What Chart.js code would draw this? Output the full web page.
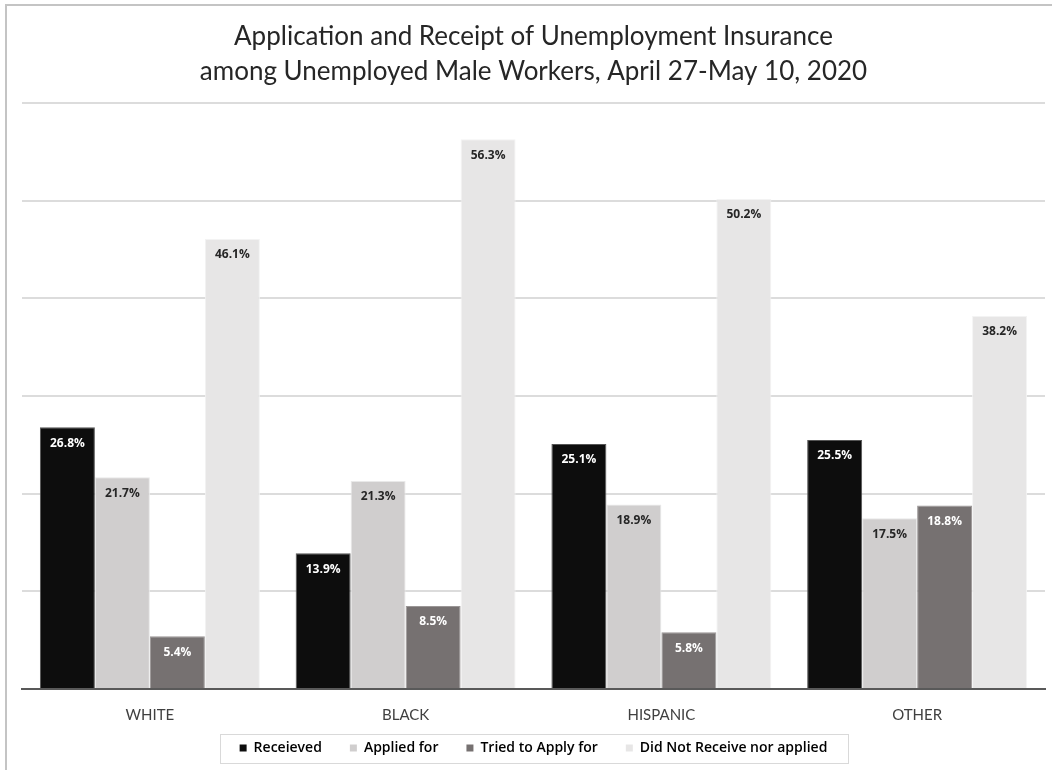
<!DOCTYPE html>
<html>
<head>
<meta charset="utf-8">
<script src="https://cdn.jsdelivr.net/npm/chart.js@4.4.1/dist/chart.umd.min.js"></script>
<style>
  html, body { margin: 0; padding: 0; background: #ffffff; }
  #wrap { position: relative; width: 1052px; height: 770px; overflow: hidden; }
  #frame { position: absolute; left: 5px; top: 4px; width: 1100px; height: 820px;
           border-left: 2px solid #c4c4c4; border-top: 2px solid #c4c4c4; }
  canvas { position: absolute; left: 0; top: 0; }
</style>
</head>
<body>
<div id="wrap">
  <div id="frame"></div>
  <canvas id="chart" width="1052" height="770"></canvas>
</div>
<script>
// Groups along the x axis
const categories = ['WHITE', 'BLACK', 'HISPANIC', 'OTHER'];

// Share of unemployed male workers (%) per status
const received     = [26.8, 13.9, 25.1, 25.5];
const appliedFor   = [21.7, 21.3, 18.9, 17.5];
const triedToApply = [5.4, 8.5, 5.8, 18.8];
const didNotApply  = [46.1, 56.3, 50.2, 38.2];

const seriesNames = ['Receieved', 'Applied for', 'Tried to Apply for', 'Did Not Receive nor applied'];

const titleLines = [
  'Application and Receipt of Unemployment Insurance',
  'among Unemployed Male Workers, April 27-May 10, 2020'
];

const fills  = ['#0d0d0d', '#d0cece', '#767171', '#e7e6e6'];
const edges  = ['#555555', '#e9e9e9', '#9a9696', '#f3f3f3'];
const labelInk = ['#ffffff', '#262626', '#ffffff', '#262626'];

const LEGEND_GAP = 28;   // spacing between legend entries
const LEGEND_LIFT = 11;  // pull the legend row up into the space under the axis labels

// Value labels drawn just inside the top of each bar
const barValueLabels = {
  id: 'barValueLabels',
  afterDatasetsDraw(chart) {
    const ctx = chart.ctx;
    ctx.save();
    ctx.font = 'bold 12px "Open Sans", "DejaVu Sans", sans-serif';
    ctx.textAlign = 'center';
    ctx.textBaseline = 'middle';
    chart.data.datasets.forEach((ds, di) => {
      const meta = chart.getDatasetMeta(di);
      meta.data.forEach((bar, i) => {
        ctx.fillStyle = labelInk[di];
        ctx.fillText(ds.data[i].toFixed(1) + '%', bar.x, bar.y + 16);
      });
    });
    ctx.restore();
  }
};

// Lifts the legend row and draws a thin frame around it
const legendFrame = {
  id: 'legendFrame',
  afterLayout(chart) {
    const lg = chart.legend;
    if (!lg) return;
    lg.top -= LEGEND_LIFT;
    lg.bottom -= LEGEND_LIFT;
  },
  afterDraw(chart) {
    const lg = chart.legend;
    if (!lg || !lg.legendHitBoxes || !lg.legendHitBoxes.length) return;
    const boxes = lg.legendHitBoxes;
    let minX = Infinity, maxX = -Infinity;
    boxes.forEach(b => { minX = Math.min(minX, b.left); maxX = Math.max(maxX, b.left + b.width); });
    const itemH = Math.max(lg.options.labels.font.size, lg.options.labels.boxHeight);
    const cy = lg.top + LEGEND_GAP + itemH / 2;
    const ctx = chart.ctx;
    ctx.save();
    ctx.strokeStyle = '#d9d9d9';
    ctx.lineWidth = 1;
    ctx.strokeRect(Math.round(minX - 20) + 0.5, Math.round(cy - 14.5) + 0.5,
                   Math.round(maxX - minX + 40), 29);
    ctx.restore();
  }
};

const datasets = [received, appliedFor, triedToApply, didNotApply].map((vals, i) => ({
  label: seriesNames[i],
  data: vals,
  backgroundColor: fills[i],
  borderColor: edges[i],
  borderWidth: 1,
  categoryPercentage: 0.86,
  barPercentage: 1.0
}));

new Chart(document.getElementById('chart'), {
  type: 'bar',
  data: { labels: categories, datasets },
  options: {
    responsive: false,
    animation: false,
    layout: { padding: { left: 22, right: 7, top: 0, bottom: -6 } },
    plugins: {
      title: {
        display: true,
        text: titleLines,
        color: '#262626',
        font: { family: 'Lato, "Open Sans", sans-serif', size: 26, weight: 'normal', lineHeight: 1.35 },
        padding: { top: 19, bottom: 14 }
      },
      legend: {
        display: true,
        position: 'bottom',
        labels: {
          boxWidth: 7,
          boxHeight: 7,
          padding: LEGEND_GAP,
          color: '#262626',
          font: { family: '"Open Sans", "DejaVu Sans", sans-serif', size: 14, weight: '600' },
          generateLabels(chart) {
            return chart.data.datasets.map((ds, i) => ({
              text: ds.label,
              fillStyle: fills[i],
              strokeStyle: fills[i],
              lineWidth: 0,
              datasetIndex: i,
              hidden: false
            }));
          }
        }
      },
      tooltip: { enabled: false }
    },
    scales: {
      x: {
        grid: { display: false, drawTicks: false },
        border: { display: true, color: '#595959', width: 2 },
        ticks: {
          color: '#404040',
          padding: 17,
          font: { family: 'Lato, "Open Sans", sans-serif', size: 15 }
        },
        afterFit(scale) { scale.height = 35; }
      },
      y: {
        min: 0,
        max: 60,
        ticks: { display: false, stepSize: 10 },
        border: { display: false },
        grid: {
          drawTicks: false,
          lineWidth: 2,
          color: (c) => (c.tick && c.tick.value === 0 ? 'rgba(0,0,0,0)' : '#dcdcdc')
        }
      }
    }
  },
  plugins: [barValueLabels, legendFrame]
});
</script>
</body>
</html>
